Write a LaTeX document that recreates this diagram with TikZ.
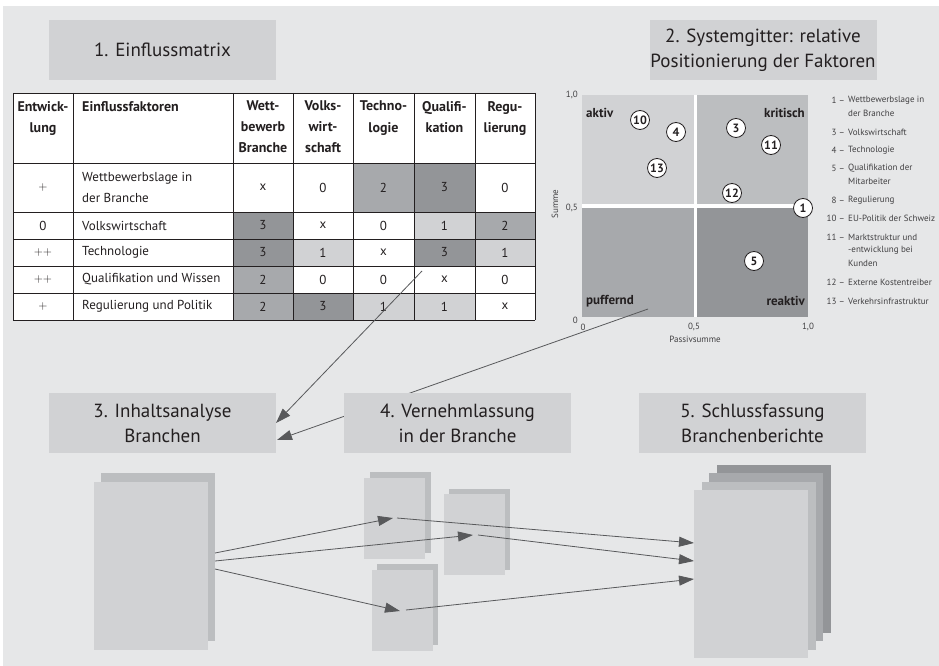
\documentclass[tikz,border=0pt]{standalone}
\usepackage{fontspec}
\setmainfont{PT Sans}
\usetikzlibrary{arrows.meta}
\definecolor{bgc}{HTML}{E6E7E8}
\definecolor{g1}{HTML}{D1D2D4}
\definecolor{g2}{HTML}{BCBEC0}
\definecolor{g3}{HTML}{A7A9AC}
\definecolor{g4}{HTML}{939598}
\definecolor{arrc}{HTML}{58595B}
\definecolor{txt}{HTML}{231F20}
\definecolor{ltxt}{HTML}{414042}
\tikzset{
  titlebox/.style={fill=g1, inner sep=0pt, align=center, text=txt,
    minimum width=227pt, minimum height=60pt, font=\fontsize{19}{25}\selectfont},
  hdr/.style={inner sep=0pt, align=center, text=txt, anchor=north,
    font=\bfseries\fontsize{14}{21}\selectfont},
  cell/.style={inner sep=0pt, text=txt, font=\fontsize{13}{21}\selectfont},
  quadlbl/.style={inner sep=0pt, text=txt, font=\bfseries\fontsize{13}{15}\selectfont},
  fac/.style={circle, draw=txt, fill=white, line width=0.8pt, minimum size=19pt,
    inner sep=0pt, text=txt, font=\bfseries\fontsize{12}{12}\selectfont},
  axl/.style={inner sep=0pt, text=ltxt, font=\fontsize{9}{9}\selectfont},
  leg/.style={inner sep=0pt, anchor=west, text=ltxt, font=\fontsize{9}{13}\selectfont},
  legn/.style={inner sep=0pt, anchor=east, text=ltxt, font=\fontsize{9}{13}\selectfont},
  bigpage/.style={fill=#1, inner sep=0pt, minimum width=114pt, minimum height=168pt},
  smallpage/.style={fill=#1, inner sep=0pt, minimum width=61pt, minimum height=81pt},
  arr/.style={draw=arrc, line width=0.8pt, -{Triangle[length=15pt,width=10pt]}},
}
\begin{document}
\begin{tikzpicture}[x=1pt,y=-1pt]
\useasboundingbox (0,0) rectangle (939,666);
\fill[white] (0,0) rectangle (939,666);
\fill[bgc] (3,6) rectangle (939,666);

% ---------- 1. Einflussmatrix ----------
\node[titlebox] (t1) at (162.5,50) {1. Einflussmatrix};

\fill[white] (13,93) rectangle (535,320);
% shaded value cells
\foreach \ya/\yb/\cells [count=\r] in {
    163/212/{x/white,0/white,2/g3,3/g4,0/white},
    212/239/{3/g4,x/white,0/white,1/g1,2/g3},
    239/266/{3/g4,1/g1,x/white,3/g4,1/g1},
    266/293/{2/g3,0/white,0/white,x/white,0/white},
    293/320/{2/g3,3/g4,1/g1,1/g1,x/white}} {
  \foreach \v/\f [count=\c] in \cells {
    \pgfmathsetmacro\xa{{233,293,353,414,475}[\c-1]}
    \pgfmathsetmacro\xb{{293,353,414,475,535}[\c-1]}
    \fill[\f] (\xa,\ya) rectangle (\xb,\yb);
    \node[cell] (m-\r-\c) at ({(\xa+\xb)/2},{(\ya+\yb)/2}) {\v};
  }
}
% grid
\foreach \x in {13,73,233,293,353,414,475,535}
  \draw[txt, line width=0.9pt] (\x,93) -- (\x,320);
\foreach \y in {93,163,212,239,266,293,320}
  \draw[txt, line width=0.9pt] (13,\y) -- (535,\y);

% header
\node[hdr] (h0) at (43,101) {Entwick-\\lung};
\node[hdr, anchor=north west, align=left] (h1) at (82,101) {Einflussfaktoren};
\node[hdr] (h2) at (263,101) {Wett-\\bewerb\\Branche};
\node[hdr] (h3) at (323,101) {Volks-\\wirt-\\schaft};
\node[hdr] (h4) at (383.5,101) {Techno-\\logie};
\node[hdr] (h5) at (444.5,101) {Qualifi-\\kation};
\node[hdr] (h6) at (505,101) {Regu-\\lierung};

% rows: development and factor names
\node[cell] (d1) at (43,187.5) {\(+\)};
\node[cell] (d2) at (43,225.5) {0};
\node[cell] (d3) at (43,252.5) {\(+\)\(+\)};
\node[cell] (d4) at (43,279.5) {\(+\)\(+\)};
\node[cell] (d5) at (43,306.5) {\(+\)};
\node[cell, anchor=west, align=left] (f1) at (82,187.5) {Wettbewerbslage in\\der Branche};
\node[cell, anchor=west] (f2) at (82,225.5) {Volkswirtschaft};
\node[cell, anchor=west] (f3) at (82,252.5) {Technologie};
\node[cell, anchor=west] (f4) at (82,279.5) {Qualifikation und Wissen};
\node[cell, anchor=west] (f5) at (82,306.5) {Regulierung und Politik};

% ---------- 2. Systemgitter ----------
\node[titlebox] (t2) at (763,50) {2. Systemgitter: relative\\Positionierung der Faktoren};

\fill[g1] (582,95) rectangle (694,204);
\fill[g2] (697,95) rectangle (808,204);
\fill[g3] (582,208) rectangle (694,317);
\fill[g4] (697,208) rectangle (808,317);
\fill[white] (694,95) rectangle (697,317);
\fill[white] (582,204) rectangle (808,208);

\node[quadlbl, anchor=west] (qa) at (586,113) {aktiv};
\node[quadlbl, anchor=east] (qk) at (805,113) {kritisch};
\node[quadlbl, anchor=west] (qp) at (586,301) {puffernd};
\node[quadlbl, anchor=east] (qr) at (805,301) {reaktiv};

\node[axl, anchor=east] (y10) at (578,95) {1,0};
\node[axl, anchor=east] (y05) at (578,208) {0,5};
\node[axl, anchor=east] (y00) at (578,320) {0};
\node[axl] (x00) at (583,327) {0};
\node[axl] (x05) at (694,327) {0,5};
\node[axl] (x10) at (808,327) {1,0};
\node[axl] (xt) at (695,339) {Passivsumme};
\node[axl, rotate=90] (yt) at (555,204) {Summe};

\node[fac] (p10) at (640,120) {10};
\node[fac] (p4) at (676,132) {4};
\node[fac] (p13) at (657,168) {13};
\node[fac] (p3) at (736,128) {3};
\node[fac] (p11) at (771,145) {11};
\node[fac] (p12) at (732,193) {12};
\node[fac] (p1) at (803,208) {1};
\node[fac] (p5) at (754,261) {5};

% legend
\node[legn] (n1) at (845,100) {1 --};
\node[leg] (l1) at (848,100) {Wettbewerbslage in};
\node[leg] (l1b) at (848,113) {der Branche};
\node[legn] (n3) at (845,132) {3 --};
\node[leg] (l3) at (848,132) {Volkswirtschaft};
\node[legn] (n4) at (845,150) {4 --};
\node[leg] (l4) at (848,150) {Technologie};
\node[legn] (n5) at (845,168) {5 --};
\node[leg] (l5) at (848,168) {Qualifikation der};
\node[leg] (l5b) at (848,181) {Mitarbeiter};
\node[legn] (n8) at (845,200) {8 --};
\node[leg] (l8) at (848,200) {Regulierung};
\node[legn] (n10) at (845,218) {10 --};
\node[leg] (l10) at (848,218) {EU-Politik der Schweiz};
\node[legn] (n11) at (845,237) {11 --};
\node[leg] (l11) at (848,237) {Marktstruktur und};
\node[leg] (l11b) at (848,250) {-entwicklung bei};
\node[leg] (l11c) at (848,263) {Kunden};
\node[legn] (n12) at (845,282) {12 --};
\node[leg] (l12) at (848,282) {Externe Kostentreiber};
\node[legn] (n13) at (845,301) {13 --};
\node[leg] (l13) at (848,301) {Verkehrsinfrastruktur};

% ---------- links from the matrix and the grid to the analysis ----------
\coordinate (src1) at (422,271);
\coordinate (src2) at (648,309);
\coordinate (in3a) at (276,423);
\coordinate (in3b) at (277,440);
\draw[arr] (src1) -- (in3a);
\draw[arr] (src2) -- (in3b);

% ---------- lower titles ----------
\node[titlebox] (t3) at (162.5,423) {3. Inhaltsanalyse\\Branchen};
\node[titlebox] (t4) at (457.5,423) {4. Vernehmlassung\\in der Branche};
\node[titlebox] (t5) at (752.5,423) {5. Schlussfassung\\Branchenberichte};

% ---------- documents ----------
\node[bigpage=g2] (a-back) at (158,557) {};
\node[bigpage=g1] (a-front) at (151,566) {};

\node[smallpage=g2] (b-back) at (400.5,512.5) {};
\node[smallpage=g1] (b-front) at (394.5,518.5) {};
\node[smallpage=g2] (c-back) at (479.5,529.5) {};
\node[smallpage=g1] (c-front) at (474.5,534.5) {};
\node[smallpage=g2] (e-back) at (407.5,604.5) {};
\node[smallpage=g1] (e-front) at (402.5,610.5) {};

\node[bigpage=g4] (r1) at (774,549) {};
\node[bigpage=g3] (r2) at (766,557) {};
\node[bigpage=g2] (r3) at (759,566) {};
\node[bigpage=g1] (r4) at (751,574) {};

% ---------- flow between the documents ----------
\coordinate (o1) at (215,553);
\coordinate (o2) at (215,561);
\coordinate (o3) at (215,569);
\coordinate (bin) at (393,518);
\coordinate (cin) at (473,535);
\coordinate (ein) at (400,611);
\coordinate (bout) at (397,518);
\coordinate (cout) at (478,535);
\coordinate (eout) at (406,610);
\coordinate (r-in1) at (694,543);
\coordinate (r-in2) at (694,561);
\coordinate (r-in3) at (694,579);
\draw[arr] (o1) -- (bin);
\draw[arr] (o2) -- (cin);
\draw[arr] (o3) -- (ein);
\draw[arr] (bout) -- (r-in1);
\draw[arr] (cout) -- (r-in2);
\draw[arr] (eout) -- (r-in3);
\end{tikzpicture}
\end{document}
